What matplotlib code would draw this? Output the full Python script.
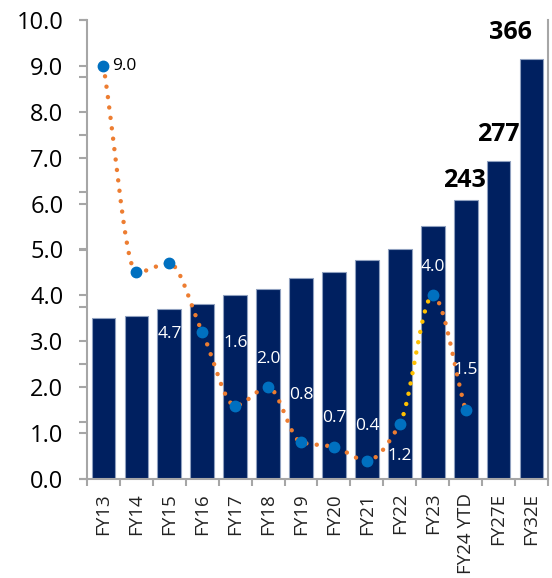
import numpy as np
import matplotlib
matplotlib.use("Agg")
import matplotlib.pyplot as plt

plt.rcParams['font.family'] = ['Open Sans', 'DejaVu Sans']

categories = ["FY13", "FY14", "FY15", "FY16", "FY17", "FY18", "FY19", "FY20",
              "FY21", "FY22", "FY23", "FY24 YTD", "FY27E", "FY32E"]
bar_values = [140.6, 142.4, 148.5, 152.6, 160.4, 165.7, 175.3, 180.5,
              190.7, 200.6, 220.4, 243, 277, 366]
bar_labels = {11: "243", 12: "277", 13: "366"}
line_values = [9.0, 4.5, 4.7, 3.2, 1.6, 2.0, 0.8, 0.7, 0.4, 1.2, 4.0, 1.5]
# text shown beside the points (position in left-axis units, as drawn in the source)
point_labels = ["9.0", "4.7", "1.6", "2.0", "0.8", "0.7", "0.4", "1.2", "4.0", "1.5"]
point_label_idx = [0, 2, 4, 5, 6, 7, 8, 9, 10, 11]
point_label_y = [9.0, 3.15, 2.97, 2.61, 1.82, 1.32, 1.16, 0.51, 4.61, 2.37]

NAVY = "#002060"
ORANGE = "#ED7D31"
YELLOW = "#FFC000"
BLUE = "#0070C0"
SPINE = "#A6A6A6"

fig = plt.figure(figsize=(5.52, 5.78), dpi=100)
ax = fig.add_axes([87/552, 1 - 479/578, (548-87)/552, (479-20)/578])
x = np.arange(len(categories))

# bars on right scale
ax.bar(x, bar_values, width=0.72, color=NAVY, edgecolor="#8FA0BF", linewidth=0.8, zorder=2)
ax.set_ylim(0, 400)
ax.set_xlim(-0.5, len(categories) - 0.5)
ax.yaxis.tick_right()
ax.set_yticks(np.arange(0, 401, 50))
ax.set_yticklabels([])
ax.tick_params(axis='y', direction='out', length=6, width=1.5, color=SPINE)

offs = {11: (-1, 14), 12: (0, 19), 13: (-15, 19)}
for i, t in bar_labels.items():
    ax.annotate(t, (x[i], bar_values[i]), xytext=offs[i], textcoords='offset points',
                ha='center', va='center', fontsize=18, fontweight='bold', color='black', zorder=5)

ax.set_xticks(x)
ax.set_xticklabels(categories, rotation=90, fontsize=13.5, color='#222222')
ax.set_xticks(np.arange(-0.5, len(categories)), minor=True)
ax.tick_params(axis='x', which='major', length=0, pad=10)
ax.tick_params(axis='x', which='minor', length=5, width=1.5, color=SPINE)

for s in ['top']:
    ax.spines[s].set_visible(False)
for s in ['left', 'right', 'bottom']:
    ax.spines[s].set_color(SPINE)
    ax.spines[s].set_linewidth(1.5)

# line on left scale
ax2 = ax.twinx()
ax2.set_ylim(0, 10)
ax2.yaxis.tick_left()
ax2.set_yticks(np.arange(0, 10.01, 1.0))
ax2.set_yticklabels([f"{v:.1f}" for v in np.arange(0, 10.01, 1.0)], fontsize=17)
ax2.tick_params(axis='y', direction='out', length=6, width=1.5, color=SPINE, pad=11)
for s in ax2.spines.values():
    s.set_visible(False)

lx = np.arange(len(line_values), dtype=float)
ly = np.array(line_values)


def pchip_segments(px, py, n=40):
    h = np.diff(px)
    d = np.diff(py) / h
    m = np.zeros_like(py)
    for k in range(1, len(py) - 1):
        if d[k-1] * d[k] > 0:
            w1 = 2*h[k] + h[k-1]
            w2 = h[k] + 2*h[k-1]
            m[k] = (w1 + w2) / (w1/d[k-1] + w2/d[k])
    m[0] = d[0]
    m[-1] = d[-1]
    segs = []
    for k in range(len(px) - 1):
        t = np.linspace(0, 1, n)
        h00 = 2*t**3 - 3*t**2 + 1
        h10 = t**3 - 2*t**2 + t
        h01 = -2*t**3 + 3*t**2
        h11 = t**3 - t**2
        xs = px[k] + t*h[k]
        ys = h00*py[k] + h10*h[k]*m[k] + h01*py[k+1] + h11*h[k]*m[k+1]
        segs.append(np.column_stack([xs, ys]))
    return segs


segs = pchip_segments(lx, ly)
dot_style = dict(linewidth=3.2, linestyle=(0, (0.01, 2.35)), dash_capstyle='round', zorder=3)
yellow_seg = 9
orange_a = np.vstack(segs[:yellow_seg])
orange_b = np.vstack(segs[yellow_seg+1:])
ax2.plot(orange_a[:, 0], orange_a[:, 1], color=ORANGE, **dot_style)
ax2.plot(segs[yellow_seg][:, 0], segs[yellow_seg][:, 1], color=YELLOW, **dot_style)
ax2.plot(orange_b[:, 0], orange_b[:, 1], color=ORANGE, **dot_style)
ax2.plot(lx, ly, linestyle='none', marker='o', markersize=7.5, color=BLUE, zorder=4)

for t, i, yy in zip(point_labels, point_label_idx, point_label_y):
    if i == 0:
        ax2.annotate(t, (lx[i], yy), xytext=(6, 0), textcoords='offset points',
                     ha='left', va='center', fontsize=12.5, color='black', zorder=5)
    else:
        ax2.text(lx[i], yy, t, ha='center', va='center', fontsize=12.5, color='white', zorder=5)

fig.savefig("out.png", dpi=100)
